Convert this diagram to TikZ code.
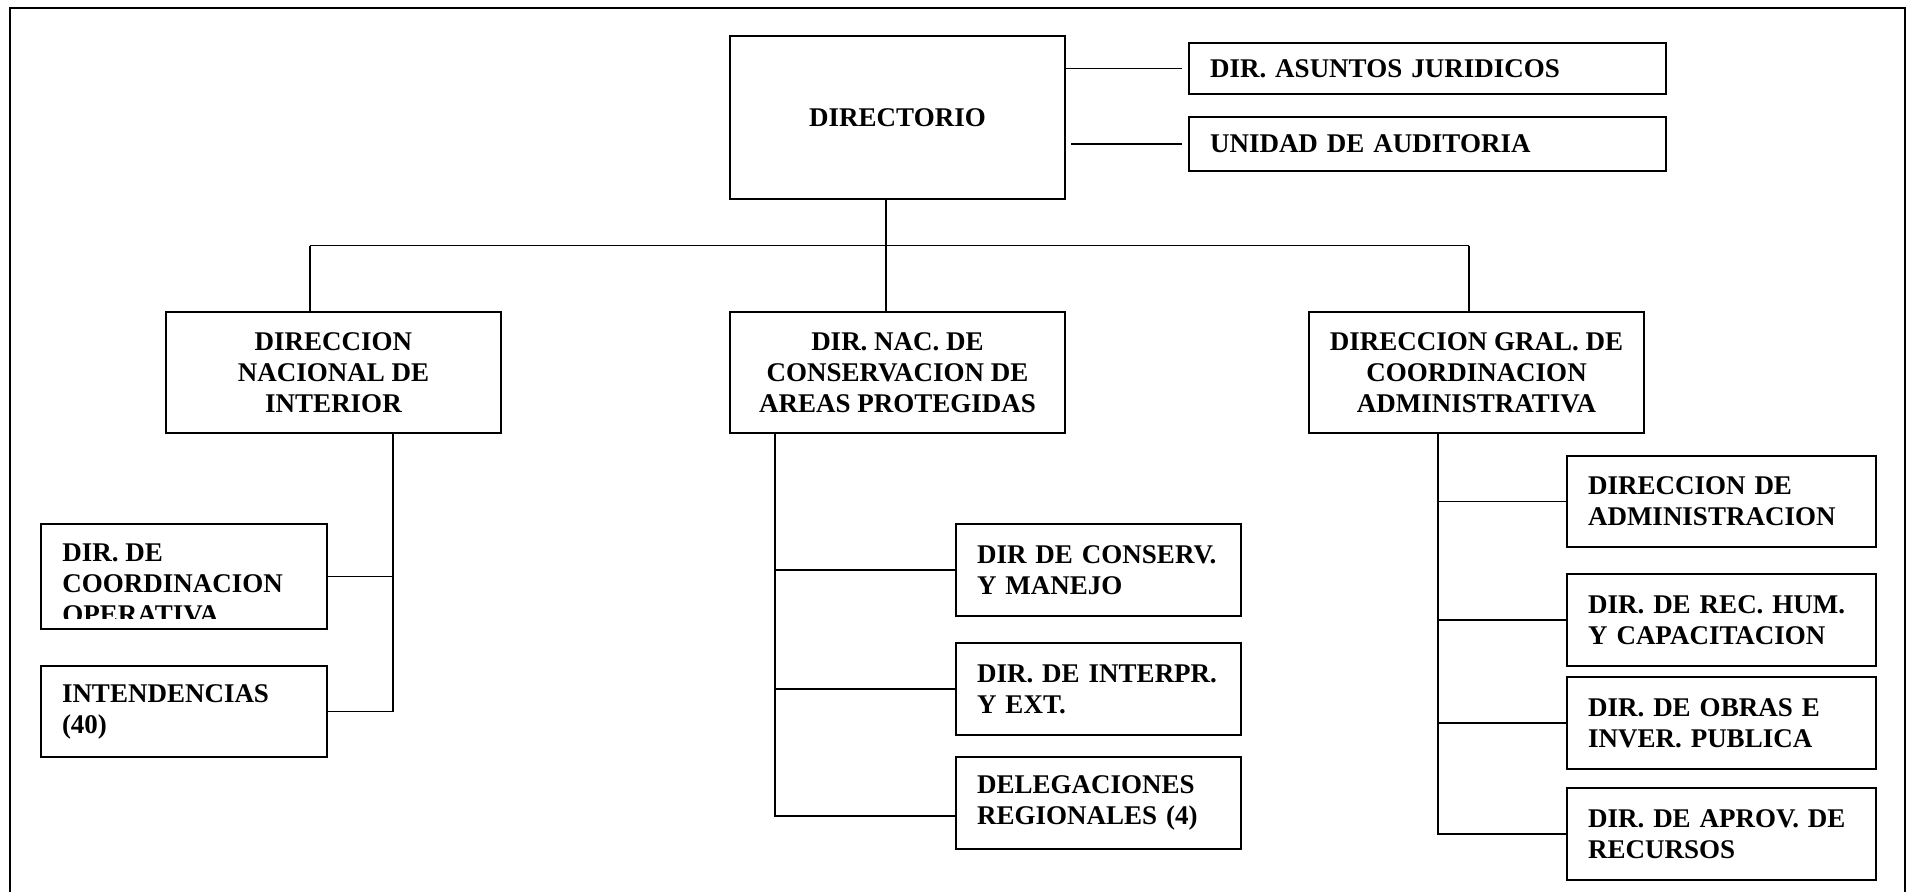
\documentclass[tikz,border=0pt]{standalone}
\usepackage{fontspec}
\setmainfont{Liberation Serif}
\newcommand\orgfont{\fontsize{13.5}{15.5}\selectfont\bfseries}
\tikzset{
  % styles
  unit/.style={
    draw,
    line width=1pt,
    font=\orgfont,
    inner xsep=10.5pt,
    inner ysep=0pt,
  },
  head/.style={
    unit,
    align=center,
    minimum width=167.5pt,
    minimum height=60.5pt,
  },
  side/.style={
    unit,
    align=left,
    text width=217.5pt,
  },
  inter/.style={unit, align=left, text width=122pt},
  cons/.style={unit, align=left, text width=121.5pt, minimum height=46pt},
  admin/.style={unit, align=left, text width=133.5pt, minimum height=46pt},
  link/.style={line width=0.8pt},
  frame/.style={line width=1.2pt},
}

\begin{document}
\begin{tikzpicture}[x=0.5pt, y=-0.5pt]
  \useasboundingbox (0,0) rectangle (1916,892);
  \draw [frame] (10,900) -- (10,8) -- (1905,8) -- (1905,900);

  % top
  \node [head, minimum height=81.5pt] (dir) at (897.5,117.5) {DIRECTORIO};
  \node [side, minimum height=25.5pt] (jur) at (1427.5,68.5) {DIR. ASUNTOS JURIDICOS};
  \node [side, minimum height=27pt]   (aud) at (1427.5,144)  {UNIDAD DE AUDITORIA};

  % second level
  \node [head] (dni)   at (333.5,372.5)  {DIRECCION\\NACIONAL DE\\INTERIOR};
  \node [head] (dncap) at (897.5,372.5)  {DIR. NAC. DE\\CONSERVACION DE\\AREAS PROTEGIDAS};
  \node [head] (dgca)  at (1476.5,372.5) {DIRECCION GRAL. DE\\COORDINACION\\ADMINISTRATIVA};

  % interior
  \node [inter, minimum height=52.5pt] (dco) at (184,576.5) {};
  \begin{scope}
    \clip (41,524) rectangle (327,618);
    \node [font=\orgfont, align=left, anchor=north west, inner sep=0pt] (dcotext)
      at (62,543) {DIR. DE\\COORDINACION\\OPERATIVA};
  \end{scope}
  \node [inter, minimum height=45.5pt] (int) at (184,711.5) {INTENDENCIAS\\(40)};

  % conservacion
  \node [cons] (dcm) at (1098.5,570) {DIR DE CONSERV.\\Y MANEJO};
  \node [cons] (die) at (1098.5,689) {DIR. DE INTERPR.\\Y EXT.};
  \node [cons] (dr)  at (1098.5,803) {DELEGACIONES\\REGIONALES (4)};

  % administracion
  \node [admin, minimum height=45.5pt] (da) at (1721.5,501.5) {DIRECCION DE\\ADMINISTRACION};
  \node [admin] (drh) at (1721.5,620) {DIR. DE REC. HUM.\\Y CAPACITACION};
  \node [admin] (doi) at (1721.5,723) {DIR. DE OBRAS E\\INVER. PUBLICA};
  \node [admin] (dar) at (1721.5,834) {DIR. DE APROV. DE\\RECURSOS};

  % connectors
  \coordinate (bus) at (886,245.7);
  \coordinate (b1)  at (310,245.7);
  \coordinate (b3)  at (1469,245.7);
  \draw [link] (b1) -- (b3);
  \draw [link] (dir.south -| bus) -- (bus |- dncap.north);
  \draw [link] (b1) -- (b1 |- dni.north);
  \draw [link] (b3) -- (b3 |- dgca.north);

  \draw [link, shorten >=3pt] (jur.west -| dir.east) -- (jur.west);
  \draw [link, shorten <=2.5pt, shorten >=3pt] (aud.west -| dir.east) -- (aud.west);

  \coordinate (t1) at (393,433);
  \draw [link] (t1) |- (int.east);
  \draw [link] (dco.east) -- (dco.east -| t1);

  \coordinate (t2) at (775,433);
  \draw [link] (t2) |- ([yshift=-6.5pt]dr.west);
  \foreach \n in {dcm,die}
    \draw [link] (\n.west -| t2) -- (\n.west);

  \coordinate (t3) at (1438,433);
  \draw [link] (t3) |- (dar.west);
  \foreach \n in {da,drh,doi}
    \draw [link] (\n.west -| t3) -- (\n.west);
\end{tikzpicture}
\end{document}
